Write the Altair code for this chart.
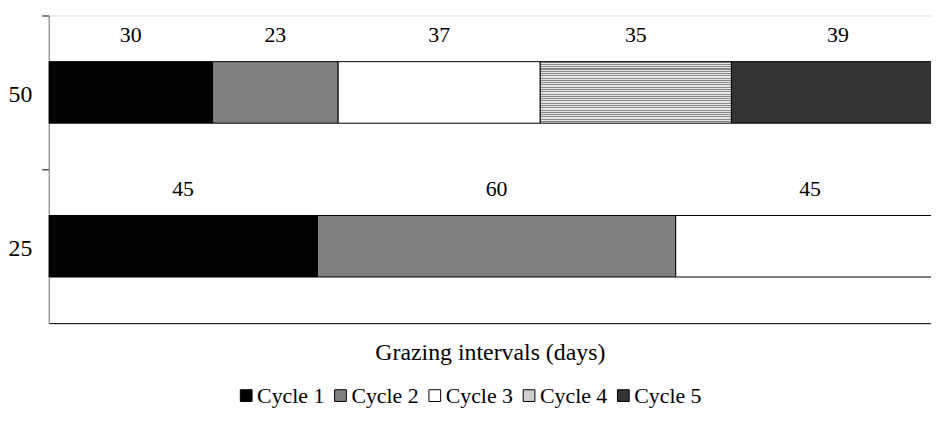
import altair as alt
import pandas as pd

# ---- data ----
cycle_names = ["Cycle 1", "Cycle 2", "Cycle 3", "Cycle 4", "Cycle 5"]
rate_50_days = [30, 23, 37, 35, 39]
rate_25_days = [45, 60, 45]
rate_labels = ["50", "25"]
cycle_colors = ["#000000", "#808080", "#ffffff", "#cfcfcf", "#333333"]

rows = []
for i, d in enumerate(rate_50_days):
    rows.append({"rate": "50", "cycle": cycle_names[i], "order": i, "days": d})
for i, d in enumerate(rate_25_days):
    rows.append({"rate": "25", "cycle": cycle_names[i], "order": i, "days": d})
df = pd.DataFrame(rows)

# horizontal-line hatch for Cycle 4
n_stripes = 27
stops = []
for k in range(n_stripes):
    a = k / n_stripes
    b = (k + 0.45) / n_stripes
    c = (k + 1) / n_stripes
    stops += [
        {"offset": a, "color": "#8a8a8a"},
        {"offset": b, "color": "#8a8a8a"},
        {"offset": b, "color": "#e6e6e6"},
        {"offset": c, "color": "#e6e6e6"},
    ]
hatch = {"gradient": "linear", "x1": 0, "y1": 0, "x2": 0, "y2": 1, "stops": stops}

FONT = "Liberation Serif"
HALF_GAP = 46.5  # outer padding of the band in px (to put ticks on band edges)

x_scale = alt.Scale(domain=[0, 0.985], nice=False, zero=True)
y_enc = alt.Y(
    "rate:N",
    sort=rate_labels,
    scale=alt.Scale(paddingInner=0.6, paddingOuter=0.3),
    axis=alt.Axis(
        title=None,
        bandPosition=0,
        tickOffset=-HALF_GAP,
        labelOffset=HALF_GAP + 2,
        domainColor="#808080",
        tickColor="#000000",
        tickSize=7,
        labelPadding=10,
        labelFont=FONT,
        labelFontSize=24,
        labelColor="#000000",
        grid=False,
    ),
)

base = alt.Chart(df).transform_stack(
    stack="days",
    groupby=["rate"],
    as_=["x0", "x1"],
    offset="normalize",
    sort=[alt.SortField("order", order="ascending")],
).transform_calculate(mid="(datum.x0 + datum.x1) / 2")

bars = base.mark_bar(stroke="#000000", strokeWidth=1, clip=True).encode(
    x=alt.X(
        "x0:Q",
        scale=x_scale,
        axis=alt.Axis(
            title="Grazing intervals (days)",
            labels=False,
            ticks=False,
            grid=False,
            domainColor="#000000",
            titleFont=FONT,
            titleFontSize=24,
            titleFontWeight="normal",
            titleColor="#000000",
            titlePadding=18,
        ),
    ),
    x2="x1:Q",
    y=y_enc,
    fill=alt.condition(
        "datum.cycle === 'Cycle 4'",
        alt.value(hatch),
        alt.Fill(
            "cycle:N",
            scale=alt.Scale(domain=cycle_names, range=cycle_colors),
            legend=alt.Legend(
                title=None,
                orient="none",
                legendX=188,
                legendY=372,
                padding=0,
                direction="horizontal",
                symbolType="square",
                symbolSize=140,
                symbolStrokeColor="#000000",
                symbolStrokeWidth=1,
                labelFont=FONT,
                labelFontSize=22,
                labelColor="#000000",
                labelOffset=0,
                columnPadding=5,
            ),
        ),
    ),
)

labels = base.mark_text(
    font=FONT, fontSize=22, color="#000000", baseline="alphabetic", dy=-51
).encode(
    x=alt.X("mid:Q", scale=x_scale),
    y=alt.Y("rate:N", sort=rate_labels),
    text=alt.Text("days:Q"),
)

chart = (
    alt.layer(bars, labels)
    .properties(
        width=889,
        height=310,
        autosize=alt.AutoSizeParams(type="none"),
        padding={"left": 41, "top": 6, "right": 0, "bottom": 93},
    )
    .configure_view(stroke=None)
    .configure(background="white")
)

chart.save("out.html", embed_options={"renderer": "svg", "actions": False})
